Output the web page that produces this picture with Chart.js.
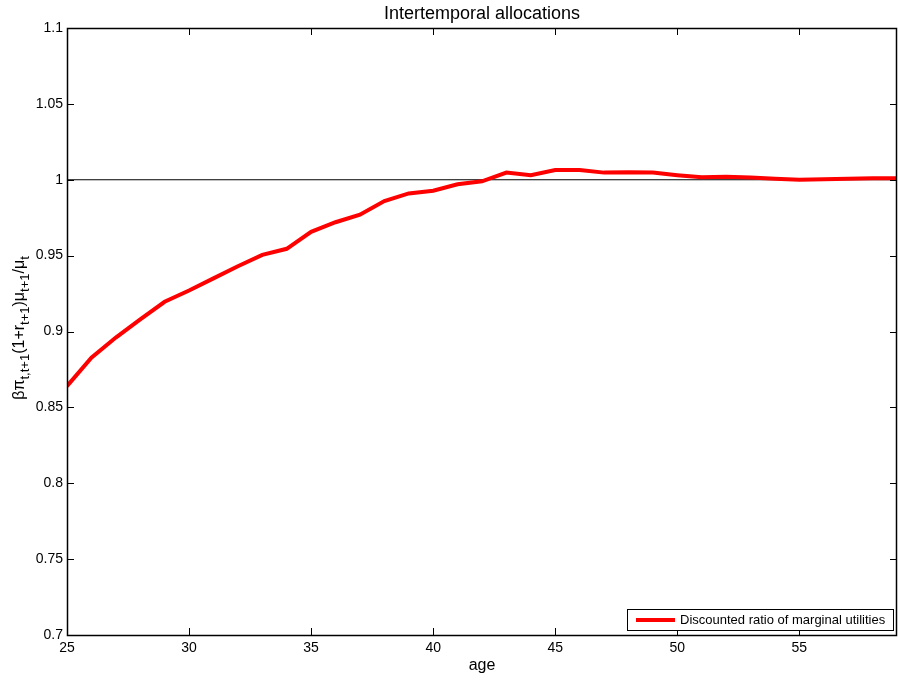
<!DOCTYPE html>
<html>
<head>
<meta charset="utf-8">
<script src="https://cdn.jsdelivr.net/npm/chart.js@4"></script>
<style>
  html, body { margin: 0; padding: 0; background: #fff; }
  #wrap { width: 898px; height: 681px; }
</style>
</head>
<body>
<div id="wrap"><canvas id="c" width="898" height="681"></canvas></div>
<script>
// ages on the x axis
const ages = [25, 26, 27, 28, 29, 30, 31, 32, 33, 34, 35, 36, 37, 38, 39, 40, 41, 42,
  43, 44, 45, 46, 47, 48, 49, 50, 51, 52, 53, 54, 55, 56, 57, 58, 59];
// discounted ratio of marginal utilities
const ratio = [0.864, 0.8827, 0.896, 0.908, 0.9196, 0.927, 0.935, 0.943, 0.9505, 0.9545,
  0.9657, 0.972, 0.9770, 0.986, 0.991, 0.9928, 0.997, 0.9990, 1.0047, 1.003, 1.0064,
  1.0064, 1.0047, 1.005, 1.0047, 1.003, 1.0016, 1.002, 1.0015, 1.0007, 1.0, 1.0004,
  1.0007, 1.001, 1.001];
const refLine = [{ x: 25, y: 1 }, { x: 59, y: 1 }];
const xTicks = [25, 30, 35, 40, 45, 50, 55];
const yTicks = [0.7, 0.75, 0.8, 0.85, 0.9, 0.95, 1, 1.05, 1.1];

const FONT = 'Liberation Sans, Arial, sans-serif';

// box, inward ticks on all four sides, titles and legend
const decor = {
  id: 'decor',
  afterDraw(chart) {
    const { ctx, chartArea: a, scales: { x, y } } = chart;
    ctx.save();
    ctx.strokeStyle = '#000';
    ctx.lineWidth = 1.5;
    ctx.strokeRect(a.left + 0.5, a.top + 0.5, a.right - a.left - 1, a.bottom - a.top);
    ctx.lineWidth = 1;
    const tl = 7;
    ctx.beginPath();
    xTicks.forEach(v => {
      const px = Math.round(x.getPixelForValue(v)) + 0.5;
      ctx.moveTo(px, a.bottom); ctx.lineTo(px, a.bottom - tl);
      ctx.moveTo(px, a.top); ctx.lineTo(px, a.top + tl);
    });
    yTicks.forEach(v => {
      const py = Math.round(y.getPixelForValue(v)) + 0.5;
      ctx.moveTo(a.left, py); ctx.lineTo(a.left + tl, py);
      ctx.moveTo(a.right, py); ctx.lineTo(a.right - tl, py);
    });
    ctx.stroke();

    // title
    ctx.fillStyle = '#000';
    ctx.font = '18px ' + FONT;
    ctx.textAlign = 'center';
    ctx.textBaseline = 'alphabetic';
    ctx.fillText('Intertemporal allocations', (a.left + a.right) / 2, 19);
    // x title
    ctx.font = '16px ' + FONT;
    ctx.fillText('age', (a.left + a.right) / 2, 670);

    // y title with subscripts
    const parts = [
      ['βπ', 0], ['t,t+1', 1], ['(1+r', 0], ['t+1', 1], [')μ', 0], ['t+1', 1], ['/μ', 0], ['t', 1]
    ];
    const big = '16px ' + FONT, small = '13px ' + FONT;
    let total = 0;
    parts.forEach(([s, sub]) => { ctx.font = sub ? small : big; total += ctx.measureText(s).width; });
    ctx.translate(24, 328);
    ctx.rotate(-Math.PI / 2);
    ctx.textAlign = 'left';
    let cx = -total / 2;
    parts.forEach(([s, sub]) => {
      ctx.font = sub ? small : big;
      ctx.fillText(s, cx, sub ? 5 : 0);
      cx += ctx.measureText(s).width;
    });
    ctx.restore();

    // legend inside bottom right
    ctx.save();
    const lx = 627, ly = 609, lw = 266, lh = 21;
    ctx.fillStyle = '#fff';
    ctx.fillRect(lx, ly, lw, lh);
    ctx.strokeStyle = '#000';
    ctx.lineWidth = 1;
    ctx.strokeRect(lx + 0.5, ly + 0.5, lw, lh);
    ctx.strokeStyle = '#ff0000';
    ctx.lineWidth = 4;
    ctx.beginPath();
    ctx.moveTo(636, 620); ctx.lineTo(675, 620);
    ctx.stroke();
    ctx.fillStyle = '#000';
    ctx.font = '13px ' + FONT;
    ctx.textBaseline = 'middle';
    ctx.fillText('Discounted ratio of marginal utilities', 680, 620);
    ctx.restore();
  }
};

new Chart(document.getElementById('c'), {
  type: 'line',
  data: {
    datasets: [
      {
        label: 'Reference',
        data: refLine,
        borderColor: '#000',
        borderWidth: 1,
        pointRadius: 0,
        order: 2
      },
      {
        label: 'Discounted ratio of marginal utilities',
        data: ages.map((a, i) => ({ x: a, y: ratio[i] })),
        borderColor: '#ff0000',
        borderWidth: 4,
        pointRadius: 0,
        tension: 0,
        order: 1
      }
    ]
  },
  options: {
    responsive: false,
    animation: false,
    layout: { padding: { top: 28, right: 1, left: 0, bottom: 0 } },
    plugins: { legend: { display: false }, tooltip: { enabled: false } },
    scales: {
      x: {
        type: 'linear',
        min: 25, max: 59,
        afterBuildTicks: s => { s.ticks = xTicks.map(v => ({ value: v })); },
        afterFit: s => { s.height = 46; },
        grid: { display: false, drawTicks: false },
        border: { display: false },
        ticks: { color: '#000', font: { family: FONT, size: 14 }, padding: 5, maxRotation: 0 }
      },
      y: {
        min: 0.7, max: 1.1,
        afterBuildTicks: s => { s.ticks = yTicks.map(v => ({ value: v })); },
        afterFit: s => { s.width = 67; },
        grid: { display: false, drawTicks: false },
        border: { display: false },
        ticks: {
          color: '#000', font: { family: FONT, size: 14 }, padding: 4,
          callback: v => String(+v.toFixed(2))
        }
      }
    }
  },
  plugins: [decor]
});
</script>
</body>
</html>
